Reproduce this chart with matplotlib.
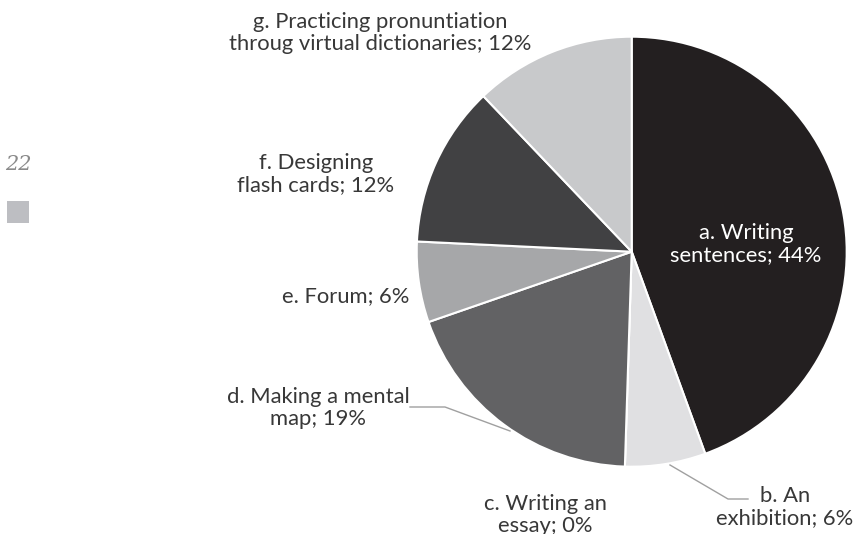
import matplotlib.pyplot as plt
from matplotlib.patches import Rectangle

# activity shares (%), clockwise from 12 o'clock
labels = ['a. Writing\nsentences; 44%', 'b. An\nexhibition; 6%', 'c. Writing an\nessay; 0%',
          'd. Making a mental\nmap; 19%', 'e. Forum; 6%', 'f. Designing\nflash cards; 12%',
          'g. Practicing pronuntiation\nthroug virtual dictionaries; 12%']
values = [44, 6, 0, 19, 6, 12, 12]
colors = ['#231f20', '#e0e0e2', '#8a8a8c', '#626264', '#a6a7a9', '#414143', '#c8c9cb']

W, H = 855, 534
cx, cy, r = 631.7, 251.7, 215

fig = plt.figure(figsize=(W / 100, H / 100), dpi=100)
ax = fig.add_axes([(cx - r) / W, (H - cy - r) / H, 2 * r / W, 2 * r / H])
ax.pie(values, colors=colors, startangle=90, counterclock=False, radius=1,
       wedgeprops=dict(edgecolor='white', linewidth=1.5))
ax.set_xlim(-1, 1)
ax.set_ylim(-1, 1)
ax.axis('off')


def d(px, py):
    # pixel position -> data coords of the pie axes
    return (px - cx) / r, (cy - py) / r


label_pos = [(746, 244), (785, 507), (545, 515), (318, 408), (346, 296), (316, 174), (380, 33)]
for i, (lab, pos) in enumerate(zip(labels, label_pos)):
    x, y = d(*pos)
    ax.text(x, y, lab, ha='center', va='center', fontsize=15.8, family='Lato',
            color='white' if i == 0 else '#383838', linespacing=1.1, clip_on=False)

# leader lines
for pts in ([(670, 465), (728, 499), (748, 499)], [(510, 431), (445, 407), (410, 407)]):
    xs, ys = zip(*[d(*p) for p in pts])
    ax.plot(xs, ys, color='#a0a0a0', lw=1, clip_on=False)

fig.text(18 / W, 1 - 164 / H, '22', fontsize=15, style='italic', family='DejaVu Serif',
         color='#8a8a8a', ha='center', va='center')
fig.patches.append(Rectangle((7 / W, 1 - 223 / H), 22 / W, 22 / H, transform=fig.transFigure,
                             facecolor='#bdbec2', edgecolor='none'))

fig.savefig('out.png', dpi=100)
